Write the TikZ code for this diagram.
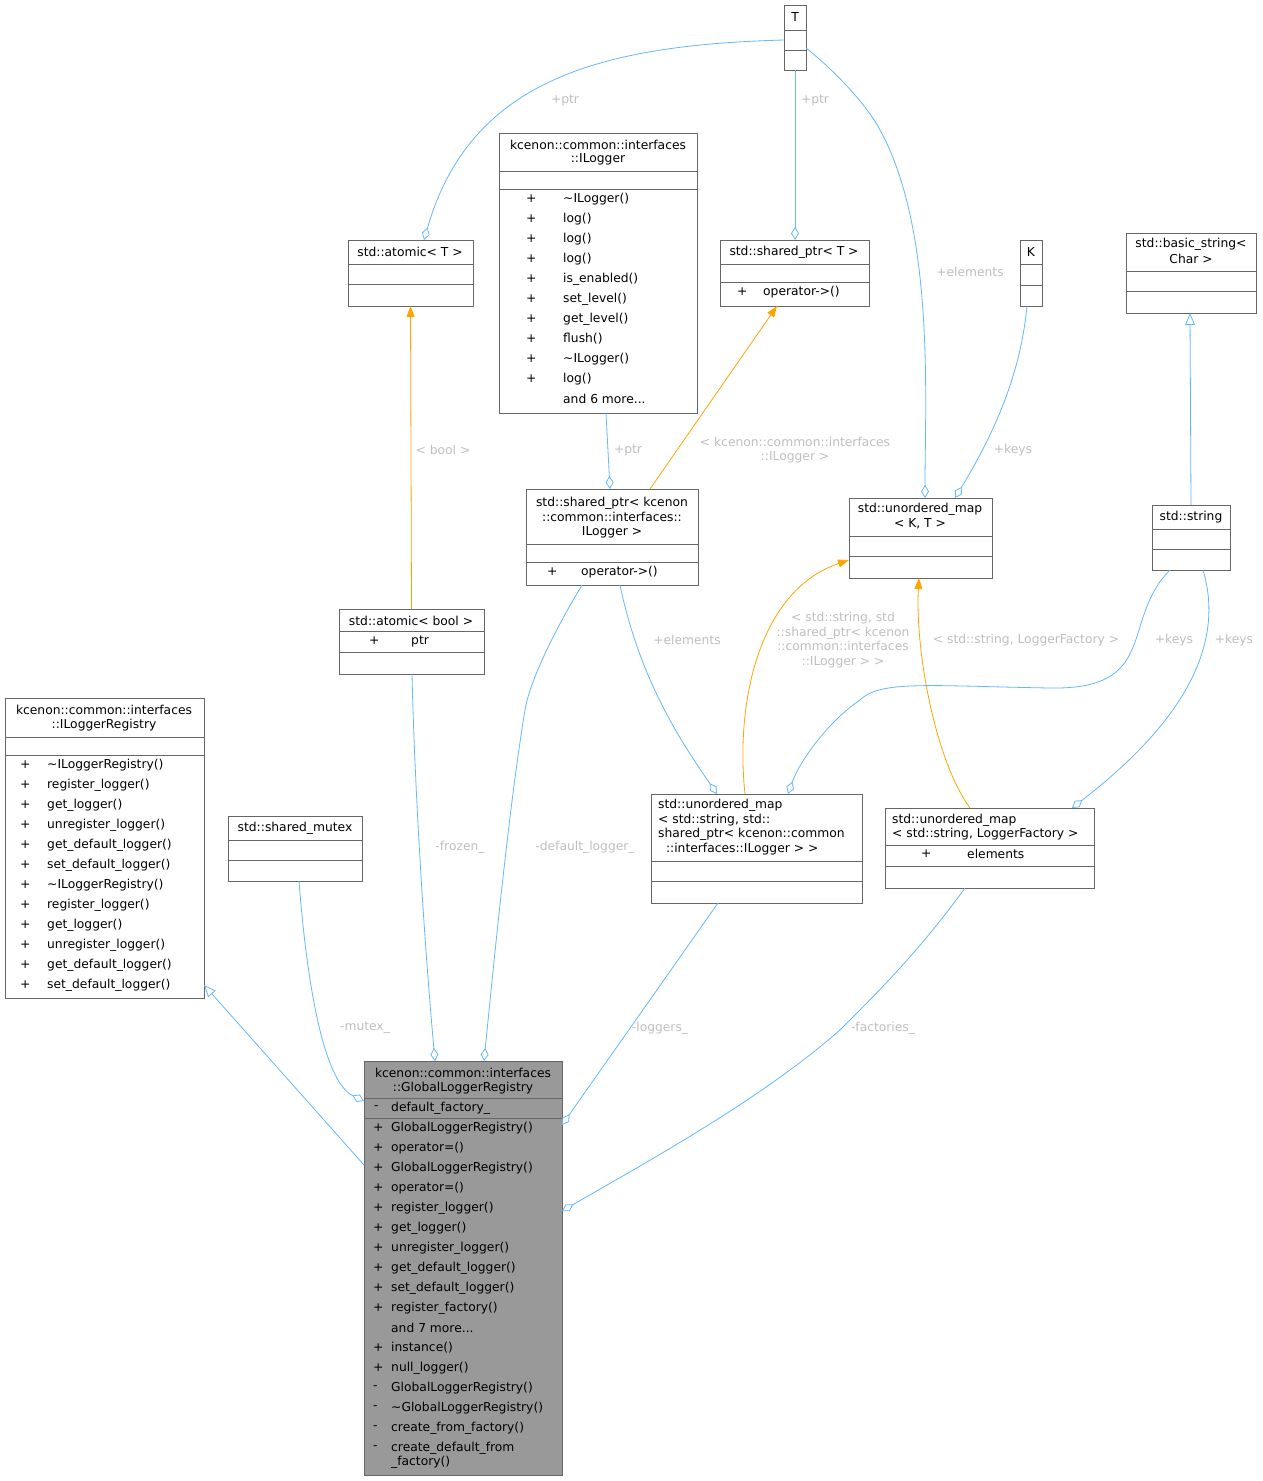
\documentclass[tikz,border=0pt]{standalone}
\usepackage{fontspec}
\setmainfont{DejaVu Sans}
\usetikzlibrary{arrows.meta,calc}
\definecolor{eb}{HTML}{63B8FF}
\definecolor{eo}{HTML}{FFA500}
\definecolor{lb}{HTML}{BFBFBF}
\definecolor{bx}{HTML}{666666}
\newcommand\ubox[5]{\node[draw=bx,line width=0.8pt,inner sep=0,outer sep=0,minimum width={#4-#2},minimum height={#5-#3},anchor=north west] (#1) at (#2,#3) {};}
\newcommand\hl[3]{\draw[bx,line width=0.8pt] (#1,#3) -- (#2,#3);}
\newcommand\mt[3]{\node[anchor=west,inner sep=0] at (#1,#2) {#3};}
\newcommand\ct[3]{\node[inner sep=0,align=center] at (#1,#2) {#3};}
\begin{document}
\begin{tikzpicture}[x=1pt,y=-1pt,font=\fontsize{12.3}{14.5}\selectfont,
 comp/.style={eb,line width=0.8pt,-{Diamond[open,length=13pt,width=8pt]}},
 tmpl/.style={eo,line width=0.8pt,-{Triangle[length=11pt,width=8pt]}},
 inh/.style={eb,line width=0.8pt,-{Triangle[open,length=12pt,width=10pt]}},
 lab/.style={lb,inner sep=0,align=center}]
\fill[white] (0,0) rectangle (1262,1481);
\useasboundingbox (0,0) rectangle (1262,1481);
% T
\ubox{T}{784}{5}{806}{70}\ct{795}{17}{T}\hl{784}{806}{30}\hl{784}{806}{50}
% ILogger
\ubox{IL}{499}{133}{697}{413}\ct{598}{145}{kcenon::common::interfaces}\ct{598}{159}{::ILogger}
\hl{499}{697}{171}\hl{499}{697}{189}
\foreach \n [count=\i from 0] in {\textasciitilde ILogger(),log(),log(),log(),is\_enabled(),set\_level(),get\_level(),flush(),\textasciitilde ILogger(),log()}{\mt{526}{199+20*\i}{+}\mt{563}{199+20*\i}{\n}}
\mt{563}{399}{and 6 more...}
% atomic<T>
\ubox{AT}{348}{240}{473}{306}\ct{410}{252}{std::atomic< T >}\hl{348}{473}{264}\hl{348}{473}{284}
% shared_ptr<T>
\ubox{ST}{720}{240}{869}{306}\ct{794}{252}{std::shared\_ptr< T >}\hl{720}{869}{264}\hl{720}{869}{282}
\mt{737}{292}{+}\mt{763}{292}{operator->()}
% K
\ubox{K}{1020}{240}{1042}{306}\ct{1031}{252}{K}\hl{1020}{1042}{264}\hl{1020}{1042}{285}
% basic_string
\ubox{BS}{1126}{233}{1256}{313}\ct{1191}{244}{std::basic\_string<}\ct{1191}{259}{Char >}\hl{1126}{1256}{271}\hl{1126}{1256}{291}
% unordered_map<K,T>
\ubox{UM}{849}{498}{992}{578}\ct{920}{509}{std::unordered\_map}\ct{920}{524}{< K, T >}\hl{849}{992}{536}\hl{849}{992}{556}
% string
\ubox{S}{1152}{505}{1230}{570}\ct{1191}{517}{std::string}\hl{1152}{1230}{529}\hl{1152}{1230}{549}
% shared_ptr<ILogger>
\ubox{SP}{526}{489}{698}{585}\ct{612}{503}{std::shared\_ptr< kcenon}\ct{612}{517}{::common::interfaces::}\ct{612}{532}{ILogger >}
\hl{526}{698}{544}\hl{526}{698}{562}\mt{547}{572}{+}\mt{581}{572}{operator->()}
% atomic<bool>
\ubox{AB}{339}{609}{484}{674}\ct{411}{621}{std::atomic< bool >}\hl{339}{484}{631}\mt{369}{641}{+}\mt{411}{641}{ptr}\hl{339}{484}{652}
% ILoggerRegistry
\ubox{ILR}{5}{698}{204}{998}\ct{104}{710}{kcenon::common::interfaces}\ct{104}{725}{::ILoggerRegistry}
\hl{5}{204}{737}\hl{5}{204}{755}
\foreach \n [count=\i from 0] in {\textasciitilde ILoggerRegistry(),register\_logger(),get\_logger(),unregister\_logger(),get\_default\_logger(),set\_default\_logger(),\textasciitilde ILoggerRegistry(),register\_logger(),get\_logger(),unregister\_logger(),get\_default\_logger(),set\_default\_logger()}{\mt{20}{765+20*\i}{+}\mt{47}{765+20*\i}{\n}}
% shared_mutex
\ubox{SM}{228}{816}{362}{881}\ct{295}{828}{std::shared\_mutex}\hl{228}{362}{840}\hl{228}{362}{860}
% map1
\ubox{M1}{651}{794}{862}{903}\mt{658}{805}{std::unordered\_map}\mt{658}{820}{< std::string, std::}\mt{658}{834}{shared\_ptr< kcenon::common}\mt{658}{849}{\ \ ::interfaces::ILogger > >}
\hl{651}{862}{861}\hl{651}{862}{881}
% map2
\ubox{M2}{885}{808}{1094}{888}\mt{892}{820}{std::unordered\_map}\mt{892}{834}{< std::string, LoggerFactory >}
\hl{885}{1094}{845}\mt{921}{854}{+}\mt{967}{854}{elements}\hl{885}{1094}{866}
% Global
\fill[black!40] (364,1061) rectangle (562,1475);
\ubox{G}{364}{1061}{562}{1475}\ct{463}{1073}{kcenon::common::interfaces}\ct{463}{1088}{::GlobalLoggerRegistry}
\hl{364}{562}{1098}\mt{374}{1108}{-}\mt{391}{1108}{default\_factory\_}\hl{364}{562}{1118}
\foreach \s/\n [count=\i from 0] in {+/GlobalLoggerRegistry(),+/operator=(),+/GlobalLoggerRegistry(),+/operator=(),+/register\_logger(),+/get\_logger(),+/unregister\_logger(),+/get\_default\_logger(),+/set\_default\_logger(),+/register\_factory(),{}/{},+/instance(),+/null\_logger(),-/GlobalLoggerRegistry(),-/\textasciitilde GlobalLoggerRegistry(),-/create\_from\_factory(),-/create\_default\_from}{\mt{373}{1128+20*\i}{\s}\mt{391}{1128+20*\i}{\n}}
\mt{391}{1328}{and 7 more...}
\mt{391}{1462}{\_factory()}
% edges
\draw[comp] ([yshift=-35]T.north west) .. controls (600,45) and (470,80) .. ([xshift=76]AT.north west);
\node[lab] at (565,100) {+ptr};
\draw[comp] (T.south) -- ([xshift=75]ST.north west);
\node[lab] at (815,100) {+ptr};
\draw[comp] ([yshift=-43]T.north east) .. controls (840,75) and (870,110) .. (880,130) .. controls (935,230) and (925,400) .. ([xshift=76]UM.north west);
\node[lab] at (970,272) {+elements};
\draw[comp] ([xshift=7]K.south west) .. controls (1020,380) and (990,440) .. ([xshift=106]UM.north west);
\node[lab] at (1013,450) {+keys};
\draw[inh] ([xshift=-39]S.north east) -- ([xshift=64]BS.south west);
\draw[comp] ([xshift=107]IL.south west) -- ([xshift=84]SP.north west);
\node[lab] at (628,450) {+ptr};
\draw[tmpl] ([xshift=124]SP.north west) -- ([xshift=57]ST.south west);
\node[lab] at (795,450) {< kcenon::common::interfaces\\::ILogger >};
\draw[tmpl] (AB.north) -- (AT.south);
\node[lab] at (443,450) {< bool >};
\draw[tmpl] ([xshift=94]M1.north west) .. controls (735,700) and (760,590) .. ([yshift=-62]UM.north west);
\node[lab] at (843,640) {< std::string, std\\::shared\_ptr< kcenon\\::common::interfaces\\::ILogger > >};
\draw[tmpl] ([xshift=85]M2.north west) .. controls (935,760) and (915,650) .. ([xshift=70]UM.south west);
\node[lab,fill=white] at (1026,640) {< std::string, LoggerFactory >};
\draw[comp] ([xshift=94]SP.south west) .. controls (640,680) and (680,740) .. ([xshift=66]M1.north west);
\node[lab] at (687,640) {+elements};
\draw[comp] ([xshift=18]S.south west) .. controls (1120,620) and (1160,690) .. (1050,688) .. controls (930,686) and (880,680) .. (860,700) .. controls (830,720) and (800,760) .. ([xshift=137]M1.north west);
\node[lab] at (1174,640) {+keys};
\draw[comp] ([xshift=51]S.south west) .. controls (1230,660) and (1160,740) .. ([xshift=187]M2.north west);
\node[lab] at (1234,640) {+keys};
\draw[inh] ([yshift=-104]G.north west) -- ([yshift=13]ILR.south east);
\draw[comp] ([xshift=71]SM.south west) .. controls (305,960) and (320,1080) .. ([yshift=-40]G.north west);
\node[lab] at (365,1028) {-mutex\_};
\draw[comp] ([xshift=73]AB.south west) .. controls (415,800) and (425,950) .. ([xshift=71]G.north west);
\node[lab] at (460,847) {-frozen\_};
\draw[comp] ([xshift=56]SP.south west) .. controls (555,630) and (530,680) .. (525,710) .. controls (510,800) and (495,950) .. ([xshift=120]G.north west);
\node[lab] at (585,847) {-default\_logger\_};
\draw[comp] ([xshift=67]M1.south west) -- ([yshift=-64]G.north east);
\node[lab] at (660,1028) {-loggers\_};
\draw[comp] ([xshift=80]M2.south west) .. controls (920,950) and (880,990) .. (840,1030) .. controls (760,1100) and (650,1160) .. ([yshift=-150]G.north east);
\node[lab] at (883,1028) {-factories\_};
\end{tikzpicture}
\end{document}
